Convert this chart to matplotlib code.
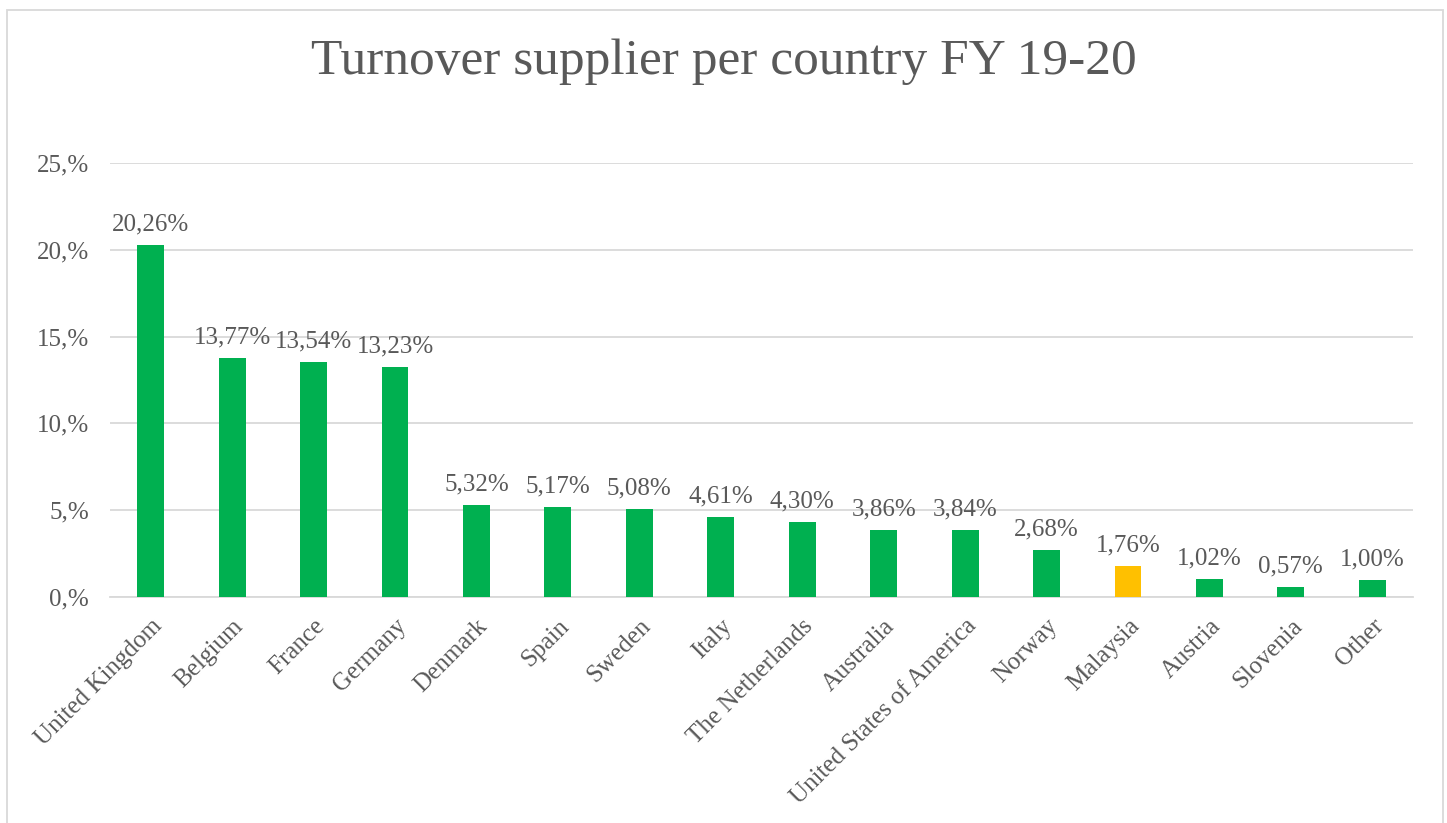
import matplotlib.pyplot as plt
import numpy as np
from matplotlib.patches import Rectangle

# ============================================================
# DATA
# ============================================================

countries = [
    "United Kingdom", "Belgium", "France", "Germany", "Denmark", "Spain",
    "Sweden", "Italy", "The Netherlands", "Australia",
    "United States of America", "Norway", "Malaysia", "Austria",
    "Slovenia", "Other",
]
share = [20.26, 13.77, 13.54, 13.23, 5.32, 5.17, 5.08, 4.61, 4.30, 3.86,
         3.84, 2.68, 1.76, 1.02, 0.57, 1.00]
highlight = "Malaysia"

y_ticks = [0, 5, 10, 15, 20, 25]

GREEN = "#00B050"
GOLD = "#FFC000"
TEXT = "#595959"
GRID = "#D9D9D9"

plt.rcParams["font.family"] = ["Liberation Serif", "DejaVu Serif"]

# ============================================================
# PLOT
# ============================================================

fig = plt.figure(figsize=(14.47, 8.23), dpi=100)
ax = fig.add_axes([0.076, 0.2746, 0.9005, 0.5274])

x = np.arange(len(countries))
colors = [GOLD if c == highlight else GREEN for c in countries]
ax.bar(x, share, width=0.33, color=colors, zorder=3)

for xi, v in zip(x, share):
    ax.text(xi, v + 0.55, f"{v:.2f}%".replace(".", ","), ha="center",
            va="bottom", fontsize=18, color=TEXT)

ax.set_xlim(-0.5, len(countries) - 0.5)
ax.set_ylim(0, 25)
ax.set_yticks(y_ticks)
ax.set_yticklabels([f"{t},%" for t in y_ticks], fontsize=18, color=TEXT)
ax.set_xticks(x)
ax.set_xticklabels(countries, rotation=45, ha="right", rotation_mode="anchor",
                   fontsize=18, color=TEXT)
ax.tick_params(axis="both", length=0)
ax.tick_params(axis="y", pad=15)
ax.tick_params(axis="x", pad=13)

ax.grid(axis="y", color=GRID, linewidth=1.3, zorder=0)
for s in ["top", "right", "left"]:
    ax.spines[s].set_visible(False)
ax.spines["bottom"].set_color(GRID)
ax.spines["bottom"].set_linewidth(1.3)

fig.text(0.5, 0.925, "Turnover supplier per country FY 19-20", ha="center",
         va="center", fontsize=37, color=TEXT)

# chart-area border
fig.patches.append(Rectangle((0.005, -0.02), 0.992, 1.008, transform=fig.transFigure,
                             fill=False, edgecolor=GRID, linewidth=1.3))

fig.savefig("out.png", dpi=100)
